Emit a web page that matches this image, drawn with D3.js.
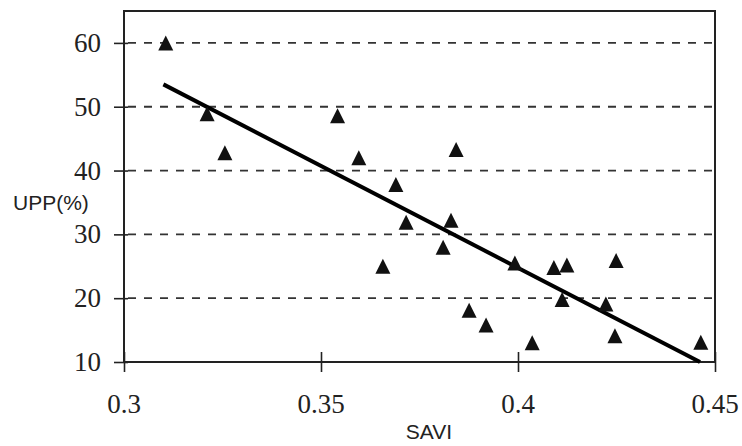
<!DOCTYPE html>
<html>
<head>
<meta charset="utf-8">
<script src="https://cdn.jsdelivr.net/npm/d3@7"></script>
<style>
  body { margin: 0; background: #fff; }
  svg { display: block; }
</style>
</head>
<body>
<div id="chart"></div>
<script>
// data
var savi = [0.3106, 0.3211, 0.3256, 0.3542, 0.3596, 0.3843, 0.3690, 0.3716, 0.3830, 0.3810, 0.3657,
            0.3992, 0.3876, 0.3919, 0.4036, 0.4091, 0.4124, 0.4249, 0.4112, 0.4223, 0.4246, 0.4464]
var upp  = [60.0, 48.9, 42.8, 48.6, 42.0, 43.3, 37.8, 31.9, 32.2, 28.0, 25.0,
            25.5, 18.1, 15.8, 13.0, 24.8, 25.2, 25.9, 19.8, 19.1, 14.1, 13.1]
// fitted line end points
var fitX = [0.3100, 0.4462]
var fitY = [53.5, 10.0]
var xTicks = [0.3, 0.35, 0.4, 0.45]
var yTicks = [10, 20, 30, 40, 50, 60]

var width = 742, height = 446
var margin = { top: 11, right: 27, bottom: 84, left: 124 }

var svg = d3.select("#chart")
  .append("svg")
  .attr("width", width)
  .attr("height", height)

var xScale = d3.scaleLinear()
  .domain([0.3, 0.45])
  .range([margin.left, width - margin.right])

var yScale = d3.scaleLinear()
  .domain([10, 65])
  .range([height - margin.bottom, margin.top])

// dashed grid
svg.append("g")
  .selectAll("line")
  .data(yTicks.filter(function(d) { return d > 10 }))
  .enter()
  .append("line")
  .attr("x1", margin.left)
  .attr("x2", width - margin.right)
  .attr("y1", function(d) { return yScale(d) })
  .attr("y2", function(d) { return yScale(d) })
  .attr("stroke", "#333")
  .attr("stroke-width", 1.8)
  .attr("stroke-dasharray", "8,8")
  .attr("stroke-dashoffset", -4)

// frame
svg.append("rect")
  .attr("x", margin.left)
  .attr("y", margin.top)
  .attr("width", width - margin.left - margin.right)
  .attr("height", height - margin.top - margin.bottom)
  .attr("fill", "none")
  .attr("stroke", "#222")
  .attr("stroke-width", 2)

// tick marks only from the axes, labels drawn as plain text below
var xAxis = d3.axisBottom(xScale)
  .tickValues(xTicks)
  .tickFormat("")
  .tickSize(10)
  .tickSizeOuter(0)

var gx = svg.append("g")
  .attr("transform", `translate(0,${height - margin.bottom})`)
  .call(xAxis)
gx.select(".domain").remove()
gx.selectAll(".tick line")
  .attr("y1", -10)
  .attr("stroke", "#222")
  .attr("stroke-width", 1.6)

var yAxis = d3.axisLeft(yScale)
  .tickValues(yTicks)
  .tickFormat("")
  .tickSize(10)
  .tickSizeOuter(0)

var gy = svg.append("g")
  .attr("transform", `translate(${margin.left},0)`)
  .call(yAxis)
gy.select(".domain").remove()
gy.selectAll(".tick line")
  .attr("x1", 4)
  .attr("stroke", "#222")
  .attr("stroke-width", 1.6)

// tick labels
svg.append("g")
  .selectAll("text")
  .data(xTicks)
  .enter()
  .append("text")
  .attr("x", function(d) { return xScale(d) })
  .attr("y", height - margin.bottom + 51)
  .attr("text-anchor", "middle")
  .attr("font-family", "Liberation Serif")
  .attr("font-size", 27)
  .attr("fill", "#222")
  .text(function(d) { return d })

svg.append("g")
  .selectAll("text")
  .data(yTicks)
  .enter()
  .append("text")
  .attr("x", margin.left - 23)
  .attr("y", function(d) { return yScale(d) + 9 })
  .attr("text-anchor", "end")
  .attr("font-family", "Liberation Serif")
  .attr("font-size", 27)
  .attr("fill", "#222")
  .text(function(d) { return d })

// regression line
svg.append("line")
  .attr("x1", xScale(fitX[0]))
  .attr("y1", yScale(fitY[0]))
  .attr("x2", xScale(fitX[1]))
  .attr("y2", yScale(fitY[1]))
  .attr("stroke", "#000")
  .attr("stroke-width", 4)

// triangles
svg.selectAll("points")
  .data(savi)
  .enter()
  .append("path")
  .attr("d", "M0,-7.5L7.5,7.5L-7.5,7.5Z")
  .attr("transform", function(d, i) {
    return `translate(${xScale(d)},${yScale(upp[i])})`
  })
  .attr("fill", "#111")

// axis titles
svg.append("text")
  .attr("x", 13)
  .attr("y", 210)
  .attr("font-family", "Liberation Sans")
  .attr("font-size", 21)
  .attr("fill", "#222")
  .text("UPP(%)")

svg.append("text")
  .attr("x", 429)
  .attr("y", 439)
  .attr("text-anchor", "middle")
  .attr("font-family", "Liberation Sans")
  .attr("font-size", 21)
  .attr("fill", "#222")
  .text("SAVI")
</script>
</body>
</html>
